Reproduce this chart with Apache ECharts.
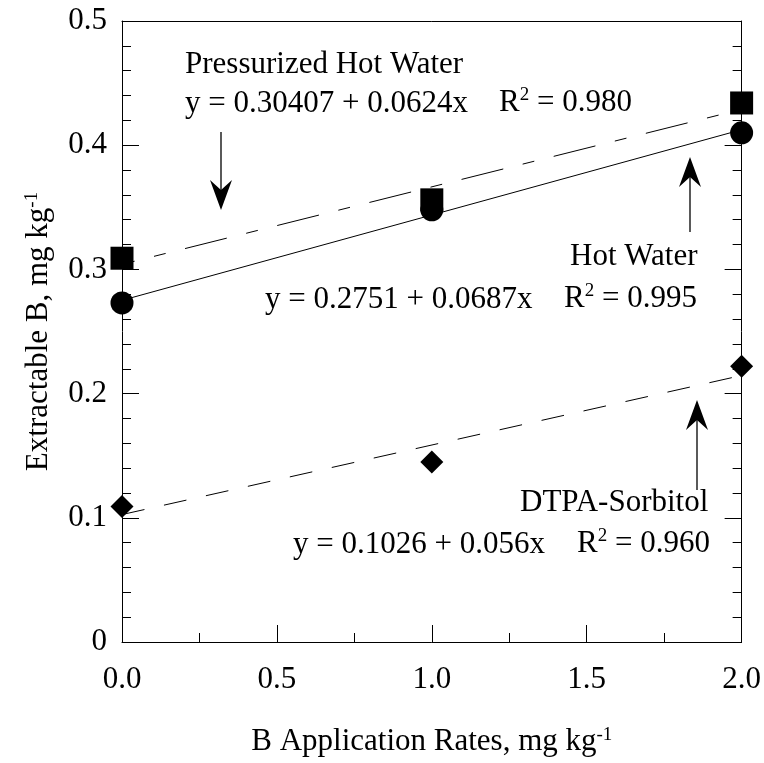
<!DOCTYPE html>
<html>
<head>
<meta charset="utf-8">
<script src="https://cdn.jsdelivr.net/npm/echarts@6/dist/echarts.min.js"></script>
<style>
  html, body { margin: 0; padding: 0; background: #fff; }
  #chart { width: 764px; height: 763px; }
</style>
</head>
<body>
<div id="chart"></div>
<script>
// Application rates (x) and measured extractable B for each method
const rates = [0, 1, 2];
const pressurizedHotWater = [0.309, 0.356, 0.434];
const hotWater = [0.273, 0.348, 0.410];
const dtpaSorbitol = [0.109, 0.145, 0.222];

// Linear fits: intercept, slope, R^2
const fitPressurized = { a: 0.30407, b: 0.0624, r2: '0.980' };
const fitHotWater = { a: 0.2751, b: 0.0687, r2: '0.995' };
const fitDtpa = { a: 0.1026, b: 0.056, r2: '0.960' };

const xTicks = ['0.0', '0.5', '1.0', '1.5', '2.0'];
const yTicks = ['0', '0.1', '0.2', '0.3', '0.4', '0.5'];

const FONT = '"Liberation Serif", "Times New Roman", serif';
const FS = 31;

function pairs(xs, ys) { return xs.map((x, i) => [x, ys[i]]); }
function fitLine(f) {
  const x0 = rates[0], x1 = rates[rates.length - 1];
  return [[x0, f.a + f.b * x0], [x1, f.a + f.b * x1]];
}

const chart = echarts.init(document.getElementById('chart'), null, { renderer: 'canvas' });

const supRich = {
  sup: { fontSize: 19, fontFamily: FONT, color: '#000', verticalAlign: 'top', padding: [0, 0, 12, 0] }
};

const tickStyle = { color: '#000', width: 1 };
const markStyle = { color: '#000', opacity: 1, borderWidth: 0 };

function textEl(x, y, text) {
  return {
    type: 'text', x: x, y: y, z: 10,
    style: {
      text: text, fill: '#000', font: FS + 'px ' + FONT,
      fontSize: FS, fontFamily: FONT,
      verticalAlign: 'bottom', align: 'left',
      rich: { sup: { fontSize: 19, fontFamily: FONT, fill: '#000', padding: [0, 0, 14, 0] } }
    }
  };
}

function arrow(x, tailY, tipY) {
  const dir = tipY > tailY ? 1 : -1;
  const back = tipY - dir * 30;
  const notch = tipY - dir * 20;
  return [
    { type: 'line', z: 10, shape: { x1: x, y1: tailY, x2: x, y2: notch }, style: { stroke: '#000', lineWidth: 1.3 } },
    { type: 'polygon', z: 10, shape: { points: [[x, tipY], [x - 11, back], [x, notch], [x + 11, back]] }, style: { fill: '#000' } }
  ];
}

const option = {
  animation: false,
  backgroundColor: '#fff',
  grid: { left: 122, right: 22, top: 21, bottom: 121, containLabel: false },
  xAxis: [
    {
      type: 'value', min: 0, max: 2, interval: 0.5, position: 'bottom',
      axisLine: { show: true, onZero: false, lineStyle: tickStyle },
      axisTick: { show: true, inside: true, length: 17, lineStyle: tickStyle },
      minorTick: { show: true, splitNumber: 2, length: 9, lineStyle: tickStyle },
      splitLine: { show: false },
      axisLabel: {
        formatter: (v) => xTicks[Math.round(v / 0.5)],
        fontSize: FS, fontFamily: FONT, color: '#000', margin: 22
      },
      name: 'B Application Rates, mg kg{sup|-1}',
      nameLocation: 'middle', nameGap: 84,
      nameTextStyle: { fontSize: FS, fontFamily: FONT, color: '#000', rich: supRich }
    },
    {
      type: 'value', min: 0, max: 2, interval: 0.5, position: 'top',
      axisLine: { show: true, onZero: false, lineStyle: tickStyle },
      axisTick: { show: false }, axisLabel: { show: false }, splitLine: { show: false }
    }
  ],
  yAxis: [
    {
      type: 'value', min: 0, max: 0.5, interval: 0.1, position: 'left',
      axisLine: { show: true, onZero: false, lineStyle: tickStyle },
      axisTick: { show: true, inside: true, length: 17, lineStyle: tickStyle },
      minorTick: { show: true, splitNumber: 5, length: 9, lineStyle: tickStyle },
      splitLine: { show: false },
      axisLabel: {
        formatter: (v) => yTicks[Math.round(v * 10)],
        fontSize: FS, fontFamily: FONT, color: '#000', margin: 15
      },
      name: 'Extractable B, mg kg{sup|-1}',
      nameLocation: 'middle', nameGap: 68,
      nameTextStyle: { fontSize: FS, fontFamily: FONT, color: '#000', rich: supRich }
    },
    {
      type: 'value', min: 0, max: 0.5, interval: 0.1, position: 'right',
      axisLine: { show: true, onZero: false, lineStyle: tickStyle },
      axisTick: { show: true, inside: true, length: 17, lineStyle: tickStyle },
      minorTick: { show: true, splitNumber: 5, length: 9, lineStyle: tickStyle },
      axisLabel: { show: false }, splitLine: { show: false }
    }
  ],
  series: [
    {
      name: 'Pressurized Hot Water fit', type: 'line', data: fitLine(fitPressurized),
      symbol: 'none', silent: true,
      lineStyle: { color: '#000', width: 1, type: [43, 20, 12, 20], dashOffset: 30 }
    },
    {
      name: 'Hot Water fit', type: 'line', data: fitLine(fitHotWater),
      symbol: 'none', silent: true,
      lineStyle: { color: '#000', width: 1, type: 'solid' }
    },
    {
      name: 'DTPA-Sorbitol fit', type: 'line', data: fitLine(fitDtpa),
      symbol: 'none', silent: true,
      lineStyle: { color: '#000', width: 1, type: [23, 20], dashOffset: 0 }
    },
    {
      name: 'Pressurized Hot Water', type: 'scatter', data: pairs(rates, pressurizedHotWater),
      symbol: 'rect', symbolSize: 23, itemStyle: markStyle, z: 5
    },
    {
      name: 'Hot Water', type: 'scatter', data: pairs(rates, hotWater),
      symbol: 'circle', symbolSize: 23, itemStyle: markStyle, z: 5
    },
    {
      name: 'DTPA-Sorbitol', type: 'scatter', data: pairs(rates, dtpaSorbitol),
      symbol: 'diamond', symbolSize: 23, itemStyle: markStyle, z: 5
    }
  ],
  graphic: [
    textEl(185, 80, 'Pressurized Hot Water'),
    textEl(185, 119, 'y = ' + fitPressurized.a + ' + ' + fitPressurized.b + 'x'),
    textEl(499, 119, 'R{sup|2} = ' + fitPressurized.r2),
    textEl(570, 272, 'Hot Water'),
    textEl(265, 315, 'y = ' + fitHotWater.a + ' + ' + fitHotWater.b + 'x'),
    textEl(564, 315, 'R{sup|2} = ' + fitHotWater.r2),
    textEl(520, 518, 'DTPA-Sorbitol'),
    textEl(293, 560, 'y = ' + fitDtpa.a + ' + ' + fitDtpa.b + 'x'),
    textEl(577, 560, 'R{sup|2} = ' + fitDtpa.r2)
  ].concat(arrow(221, 132, 210), arrow(690, 232, 157), arrow(697, 490, 400))
};

chart.setOption(option);
</script>
</body>
</html>
